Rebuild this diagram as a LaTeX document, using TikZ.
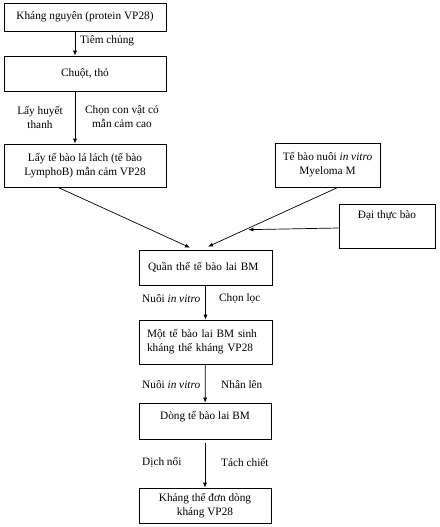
\documentclass[tikz,border=0pt]{standalone}
\usepackage{fontspec}
\setmainfont{Liberation Serif}
\usetikzlibrary{arrows.meta}

\begin{document}
\begin{tikzpicture}[
  x=1pt,y=-1pt,
  box/.style={draw=black,line width=0.7pt,inner sep=0pt,font=\fontsize{11.3}{14}\selectfont,align=center},
  flow/.style={draw=black,line width=0.7pt,-{Latex[length=5pt,width=4pt]}},
  label/.style={font=\fontsize{11.3}{14}\selectfont,inner sep=0pt,align=center},
]
\useasboundingbox (0,0) rectangle (439,527);

\node[box,minimum width=162,minimum height=28] (khang) at (85,17) {Kháng nguyên (protein VP28)};
\node[box,minimum width=162,minimum height=35] (chuot) at (85,73.5) {Chuột, thỏ};
\node[box,minimum width=162,minimum height=43] (lach) at (85,165.5)
  {Lấy tế bào lá lách (tế bào\\LymphoB) mẫn cảm VP28};
\node[box,minimum width=105,minimum height=44] (myeloma) at (327.5,165)
  {Tế bào nuôi \textit{in vitro}\\Myeloma M};
\node[box,minimum width=96,minimum height=44,text height=11,text depth=27] (daithuc) at (387,226) {Đại thực bào};
\node[box,minimum width=133,minimum height=35,text width=115,align=left,inner xsep=9] (quanthe) at (205.5,267.5)
  {Quần thể tế bào lai BM};
\node[box,minimum width=133,minimum height=44,text width=117,align=left,inner xsep=8] (mot) at (205.5,342)
  {Một tế bào lai BM sinh\\kháng thể kháng VP28};
\node[box,minimum width=132,minimum height=36,text height=16,text depth=20] (dong) at (205,421) {Dòng tế bào lai BM};
\node[box,minimum width=132,minimum height=35] (khangthe) at (205,505.5)
  {Kháng thể đơn dòng\\kháng VP28};

% labels on the flow
\node[label,anchor=west] (tiem) at (80,41) {Tiêm chủng};
\node[label] (huyet) at (40,117) {Lấy huyết\\thanh};
\node[label] (chon) at (122,117) {Chọn con vật có\\mẫn cảm cao};
\node[label,anchor=west] (nuoi1) at (142,299) {Nuôi \textit{in vitro}};
\node[label,anchor=west] (loc) at (219,299) {Chọn lọc};
\node[label,anchor=west] (nuoi2) at (142,385) {Nuôi \textit{in vitro}};
\node[label,anchor=west] (nhan) at (221,385) {Nhân lên};
\node[label,anchor=west] (dich) at (142,462) {Dịch nổi};
\node[label,anchor=west] (tach) at (221,462) {Tách chiết};

% connectors
\draw[flow] ([xshift=-10pt]khang.south) -- ([xshift=-10pt]chuot.north);
\draw[flow] ([xshift=-10pt]chuot.south) -- ([xshift=-10pt]lach.north);
\draw[flow] ([xshift=-27pt]lach.south) -- ([xshift=-15.5pt,yshift=2pt]quanthe.north);
\draw[flow] ([xshift=10.5pt]myeloma.south) -- ([xshift=2.5pt,yshift=3pt]quanthe.north);
\draw[flow] ([yshift=-2pt]daithuc.west) -- ([xshift=-24pt,yshift=20pt]quanthe.north east);
\draw[flow] (quanthe) -- (mot);
\draw[flow] (mot) -- (dong);
\draw[flow,shorten <=4pt] (dong) -- (khangthe);

\end{tikzpicture}
\end{document}
